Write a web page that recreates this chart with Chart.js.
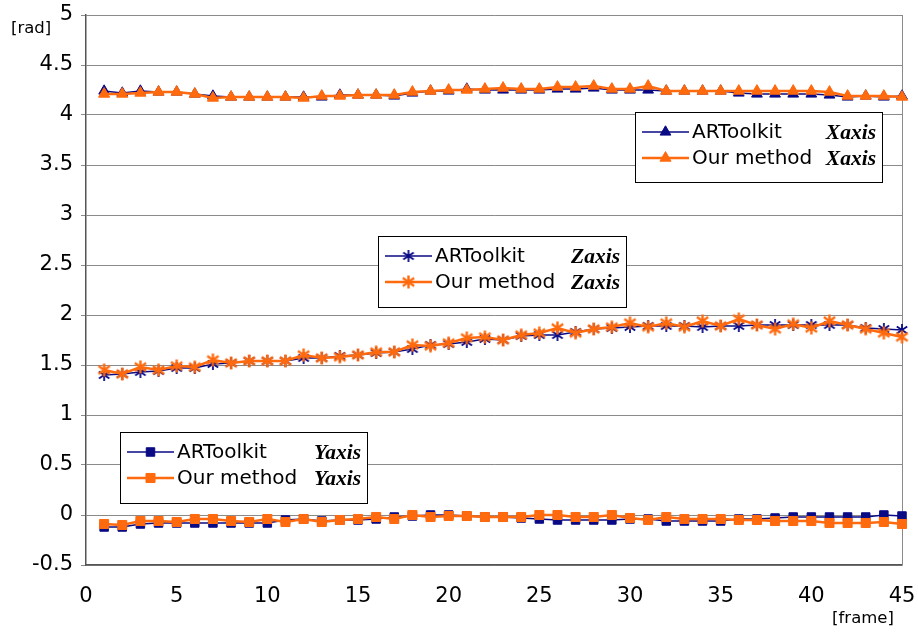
<!DOCTYPE html>
<html>
<head>
<meta charset="utf-8">
<script src="https://cdn.jsdelivr.net/npm/chart.js@4/dist/chart.umd.min.js"></script>
<style>
  html, body { margin: 0; padding: 0; background: #ffffff; }
  #wrap { width: 918px; height: 635px; position: relative; }
</style>
</head>
<body>
<div id="wrap"><canvas id="chart" width="918" height="635"></canvas></div>
<script>
// Frame numbers along the horizontal axis
const frames = [1,2,3,4,5,6,7,8,9,10,11,12,13,14,15,16,17,18,19,20,21,22,23,24,25,26,27,28,29,30,31,32,33,34,35,36,37,38,39,40,41,42,43,44,45];

// Tick labels
const xTickValues = [0,5,10,15,20,25,30,35,40,45];
const yTickValues = [-0.5,0,0.5,1,1.5,2,2.5,3,3.5,4,4.5,5];

// Rotation angles [rad] — X axis
const artoolkitX = [4.24,4.22,4.24,4.23,4.23,4.21,4.19,4.18,4.18,4.18,4.18,4.18,4.18,4.20,4.20,4.20,4.19,4.22,4.24,4.24,4.26,4.25,4.25,4.25,4.25,4.26,4.26,4.27,4.25,4.25,4.25,4.24,4.24,4.24,4.24,4.22,4.21,4.21,4.21,4.21,4.20,4.18,4.19,4.18,4.19];
const ourMethodX = [4.21,4.21,4.22,4.23,4.23,4.21,4.17,4.18,4.18,4.18,4.18,4.17,4.19,4.19,4.20,4.20,4.20,4.23,4.24,4.25,4.25,4.26,4.27,4.26,4.26,4.28,4.28,4.29,4.26,4.26,4.29,4.24,4.24,4.24,4.24,4.24,4.24,4.24,4.24,4.24,4.23,4.19,4.19,4.19,4.18];

// Z axis
const artoolkitZ = [1.40,1.41,1.43,1.44,1.47,1.47,1.51,1.52,1.54,1.54,1.54,1.57,1.57,1.59,1.60,1.62,1.63,1.66,1.70,1.71,1.73,1.76,1.75,1.79,1.80,1.80,1.83,1.86,1.87,1.88,1.89,1.89,1.89,1.88,1.89,1.89,1.90,1.90,1.90,1.90,1.90,1.90,1.87,1.86,1.85];
const ourMethodZ = [1.45,1.41,1.48,1.45,1.49,1.48,1.55,1.52,1.54,1.54,1.54,1.60,1.57,1.58,1.60,1.63,1.63,1.70,1.69,1.72,1.77,1.78,1.75,1.80,1.82,1.87,1.82,1.86,1.88,1.92,1.88,1.92,1.88,1.94,1.89,1.96,1.90,1.86,1.91,1.87,1.94,1.90,1.86,1.82,1.78];

// Y axis
const artoolkitY = [-0.12,-0.12,-0.09,-0.08,-0.08,-0.08,-0.08,-0.08,-0.08,-0.08,-0.05,-0.04,-0.06,-0.05,-0.05,-0.04,-0.02,-0.01,0.00,0.00,-0.01,-0.02,-0.02,-0.03,-0.04,-0.05,-0.05,-0.05,-0.05,-0.04,-0.04,-0.06,-0.06,-0.06,-0.06,-0.04,-0.04,-0.03,-0.02,-0.02,-0.02,-0.02,-0.02,0.00,-0.01];
const ourMethodY = [-0.09,-0.10,-0.06,-0.06,-0.07,-0.04,-0.04,-0.06,-0.07,-0.04,-0.07,-0.04,-0.07,-0.05,-0.04,-0.02,-0.04,0.00,-0.02,-0.01,-0.01,-0.02,-0.02,-0.02,0.00,0.00,-0.02,-0.02,0.00,-0.03,-0.05,-0.02,-0.04,-0.04,-0.04,-0.05,-0.05,-0.06,-0.06,-0.06,-0.08,-0.08,-0.08,-0.07,-0.09];

const NAVY = '#0a0a85';
const ORANGE = '#ff6a0e';
const SANS = '"DejaVu Sans", Verdana, sans-serif';
const SERIF = '"Liberation Serif", "Times New Roman", serif';

// Asterisk marker: vertical stroke crossed by an X
function asteriskMarker(color, size, lw) {
  const c = document.createElement('canvas');
  c.width = size; c.height = size;
  const g = c.getContext('2d');
  const m = size / 2, r = size / 2 - 1;
  g.strokeStyle = color;
  g.lineWidth = lw;
  g.lineCap = 'butt';
  g.beginPath();
  g.moveTo(m, m - r); g.lineTo(m, m + r);
  const dx = r * 0.87, dy = r * 0.6;
  g.moveTo(m - dx, m - dy); g.lineTo(m + dx, m + dy);
  g.moveTo(m - dx, m + dy); g.lineTo(m + dx, m - dy);
  g.stroke();
  return c;
}
const starNavy = asteriskMarker(NAVY, 14, 1.8);
const starOrange = asteriskMarker(ORANGE, 15, 2.4);

function points(values) {
  return frames.map((f, i) => ({ x: f, y: values[i] }));
}

function series(label, values, color, style, radius, width, order, group) {
  return {
    label: label,
    data: points(values),
    borderColor: color,
    backgroundColor: color,
    borderWidth: width,
    pointStyle: style,
    pointRadius: radius,
    pointBorderColor: color,
    pointBackgroundColor: color,
    pointBorderWidth: 1,
    tension: 0,
    clip: false,
    order: order,
    group: group
  };
}

const datasets = [
  series('ARToolkit', artoolkitX, NAVY, 'triangle', 6.2, 1.5, 1, 'Xaxis'),
  series('Our method', ourMethodX, ORANGE, 'triangle', 6.4, 2.5, 0, 'Xaxis'),
  series('ARToolkit', artoolkitZ, NAVY, starNavy, 7, 1.5, 1, 'Zaxis'),
  series('Our method', ourMethodZ, ORANGE, starOrange, 7, 2.5, 0, 'Zaxis'),
  series('ARToolkit', artoolkitY, NAVY, 'rect', 6, 1.5, 1, 'Yaxis'),
  series('Our method', ourMethodY, ORANGE, 'rect', 6.4, 2.5, 0, 'Yaxis')
];

// Boxed legends placed inside the plot, one per axis group
const legendBoxes = [
  { group: 'Xaxis', left: 635, top: 112, width: 247, height: 70 },
  { group: 'Zaxis', left: 378, top: 236, width: 248, height: 71 },
  { group: 'Yaxis', left: 120, top: 432, width: 247, height: 71 }
];

const boxLegendPlugin = {
  id: 'boxLegend',
  afterDraw(chart) {
    const ctx = chart.ctx;
    ctx.save();
    legendBoxes.forEach(box => {
      ctx.fillStyle = '#ffffff';
      ctx.fillRect(box.left, box.top, box.width, box.height);
      ctx.strokeStyle = '#000000';
      ctx.lineWidth = 1;
      ctx.strokeRect(box.left + 0.5, box.top + 0.5, box.width, box.height);
      const members = chart.data.datasets.filter(d => d.group === box.group);
      members.forEach((ds, i) => {
        const y = box.top + 20 + i * 26;
        ctx.strokeStyle = ds.borderColor;
        ctx.lineWidth = ds.borderWidth;
        ctx.beginPath();
        ctx.moveTo(box.left + 7, y);
        ctx.lineTo(box.left + 54, y);
        ctx.stroke();
        ctx.fillStyle = ds.pointBackgroundColor;
        ctx.strokeStyle = ds.pointBorderColor;
        ctx.lineWidth = 1;
        Chart.helpers.drawPoint(ctx, {
          pointStyle: ds.pointStyle,
          radius: ds.pointRadius,
          rotation: 0,
          borderWidth: 1
        }, box.left + 30.5, y);
        ctx.fillStyle = '#000000';
        ctx.font = '20px ' + SANS;
        ctx.textAlign = 'left';
        ctx.textBaseline = 'middle';
        ctx.fillText(ds.label, box.left + 57, y + 1);
        ctx.font = 'italic bold 21.5px ' + SERIF;
        ctx.textAlign = 'right';
        ctx.fillText(box.group, box.left + box.width - 6, y + 1);
      });
    });
    ctx.restore();
  }
};

// Axis unit captions and the right-hand frame edge
const captionPlugin = {
  id: 'captions',
  beforeDatasetsDraw(chart) {
    const { ctx, chartArea } = chart;
    ctx.save();
    ctx.strokeStyle = '#8a8a8a';
    ctx.lineWidth = 1;
    ctx.beginPath();
    ctx.moveTo(Math.round(chartArea.right) + 0.5, chartArea.top);
    ctx.lineTo(Math.round(chartArea.right) + 0.5, chartArea.bottom);
    ctx.stroke();
    ctx.restore();
  },
  afterDraw(chart) {
    const ctx = chart.ctx;
    ctx.save();
    ctx.fillStyle = '#000000';
    ctx.font = '16.5px ' + SANS;
    ctx.textBaseline = 'middle';
    ctx.textAlign = 'left';
    ctx.fillText('[rad]', 11, 29);
    ctx.textAlign = 'center';
    ctx.fillText('[frame]', 863, 619);
    ctx.restore();
  }
};

Chart.defaults.font.family = SANS;

new Chart(document.getElementById('chart'), {
  type: 'line',
  data: { datasets: datasets },
  options: {
    responsive: false,
    devicePixelRatio: 1,
    animation: false,
    events: [],
    layout: { padding: { left: 0, right: 16, top: 15, bottom: 0 } },
    plugins: {
      legend: { display: false },
      tooltip: { enabled: false },
      title: { display: false }
    },
    scales: {
      x: {
        type: 'linear',
        min: 0,
        max: 45,
        afterBuildTicks(scale) { scale.ticks = xTickValues.map(v => ({ value: v })); },
        afterFit(scale) {
          scale.height = 70;
          scale.paddingLeft = 0;
          scale.paddingRight = 0;
        },
        grid: { drawOnChartArea: false, drawTicks: false },
        border: { display: true, color: '#555555', width: 1.5 },
        ticks: {
          color: '#000000', font: { size: 21, family: SANS }, padding: 19,
          maxRotation: 0, autoSkip: false,
          callback: v => String(v)
        }
      },
      y: {
        type: 'linear',
        min: -0.5,
        max: 5,
        afterBuildTicks(scale) { scale.ticks = yTickValues.map(v => ({ value: v })); },
        afterFit(scale) {
          scale.width = 86;
          scale.paddingTop = 0;
          scale.paddingBottom = 0;
        },
        grid: { color: '#8a8a8a', lineWidth: 1, tickLength: 5, drawTicks: true },
        border: { display: true, color: '#555555', width: 1.5 },
        ticks: {
          color: '#000000', font: { size: 21, family: SANS }, padding: 8,
          autoSkip: false,
          callback: v => String(v)
        }
      }
    }
  },
  plugins: [captionPlugin, boxLegendPlugin]
});
</script>
</body>
</html>
